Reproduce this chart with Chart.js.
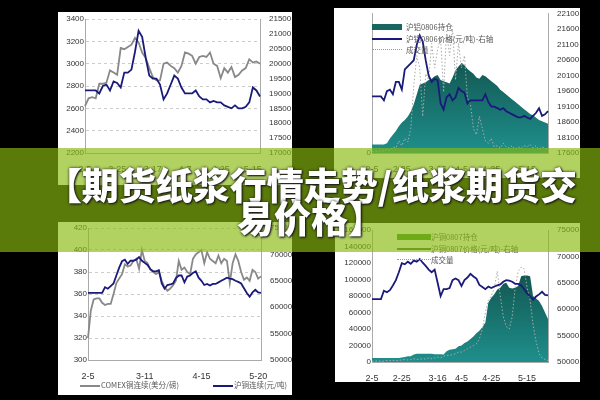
<!DOCTYPE html>
<html><head><meta charset="utf-8">
<script src="https://cdn.jsdelivr.net/npm/chart.js@4"></script>
<style>
body{margin:0;width:600px;height:400px;background:#000;position:relative;overflow:hidden;font-family:"Liberation Sans",Arial,sans-serif}
.panel{position:absolute;background:#fff}
.panel canvas{position:absolute;left:0;top:0}
.lg{position:absolute;font:7.5px "Noto Sans CJK SC",sans-serif;color:#555;white-space:nowrap;line-height:10px}
.sw{position:absolute}
#banner{position:absolute;left:0;top:148px;width:600px;height:104px;background:rgba(136,185,15,0.66);z-index:5;text-align:center;color:#fff;
 font:900 37px/33px "Noto Sans CJK SC",sans-serif;padding:20px 0 0 22px;box-sizing:border-box;text-shadow:0 0 3px #222,1px 1px 2px #111}
</style></head><body>
<div class="panel" style="left:58px;top:12px;width:234px;height:173px"><canvas id="tl"></canvas></div>
<div class="panel" style="left:334px;top:8px;width:246px;height:170px"><canvas id="tr"></canvas>
 <div class="sw" style="left:38px;top:16px;width:30px;height:6px;background:#17665f"></div><div class="lg" style="left:72px;top:14px">沪铝0806持仓</div>
 <div class="sw" style="left:38px;top:30px;width:30px;height:2px;background:#1a1a7a"></div><div class="lg" style="left:72px;top:26px">沪铝0806价格(元/吨)-右轴</div>
 <div class="sw" style="left:38px;top:41px;width:30px;border-top:1px dotted #999"></div><div class="lg" style="left:72px;top:37px">成交量</div>
</div>
<div class="panel" style="left:58px;top:222px;width:234px;height:173px"><canvas id="bl"></canvas>
 <div class="sw" style="left:22px;top:163px;width:20px;height:2px;background:#888"></div><div class="lg" style="left:43px;top:158px">COMEX铜连续(美分/磅)</div>
 <div class="sw" style="left:155px;top:163px;width:20px;height:2px;background:#1a1a7a"></div><div class="lg" style="left:176px;top:158px">沪铜连续(元/吨)</div>
</div>
<div class="panel" style="left:335px;top:223px;width:245px;height:159px"><canvas id="br"></canvas>
 <div class="sw" style="left:62px;top:11px;width:34px;height:6px;background:#3f8f2c"></div><div class="lg" style="left:96px;top:9px">沪铜0807持仓</div>
 <div class="sw" style="left:62px;top:25px;width:34px;height:2px;background:#3f6f2c"></div><div class="lg" style="left:96px;top:21px">沪铜0807价格(元/吨)-右轴</div>
 <div class="sw" style="left:62px;top:36px;width:34px;border-top:1px dotted #999"></div><div class="lg" style="left:96px;top:32px">成交量</div>
</div>
<div id="banner">【期货纸浆行情走势/纸浆期货交<br>易价格】</div>
<script>
// top-left: pulp index vs futures (50 pts)
const tlGray = [2620,2690,2700,2690,2820,2820,2830,2940,2920,2900,3140,3130,3150,3170,3230,3190,3100,3050,2960,2880,
  2850,2850,3000,3010,2980,2960,2920,2980,3100,3090,3070,3000,3060,3070,3060,3100,3000,2980,2870,2960,
  2920,2970,2880,2900,2940,2960,3040,3010,3020,3000];
const tlNavy = [19100,19100,19100,19100,19000,19250,19300,19100,19400,19350,19200,19700,19700,19800,20400,21100,20900,20200,19600,19500,
  19500,19300,18800,19000,19300,19600,19500,19200,19000,19000,19000,19100,18900,18800,18800,18700,18750,18700,18700,18600,
  18550,18500,18600,18500,18500,18550,18700,19200,19100,18900];
const tlTickPos = [0, 9, 19, 28, 38, 47];
const tlTickText = ['2-5', '2-25', '3-17', '4-7', '4-25', '5-15'];

// top-right: 沪铝0806 (60 pts)
const trOI = [7000,7000,7000,7000,7000,8000,12000,15000,18000,22000,25000,27000,30000,34000,40000,48000,56000,57000,58000,60000,
  61000,63000,64000,60000,59000,58000,57000,62000,68000,71000,74000,72000,69000,67000,65000,62000,61000,64000,63000,61000,
  59000,57000,55000,52000,50000,48000,46000,44000,42000,40000,38000,36000,34000,32000,31000,29000,27000,26000,25000,24000];
const trPrice = [19430,19430,19430,19430,19300,19600,19650,19500,19900,19900,19650,20300,20400,20500,20600,21100,21400,21200,20600,20100,
  19900,20000,19950,19200,19000,19400,19500,19300,19400,19700,19600,19550,19200,19300,19300,19300,19300,19300,19500,19250,
  19100,19100,19050,19000,19050,18950,18900,18850,18800,18750,18750,18800,18750,18700,18800,18900,19050,18800,18850,18950];
const trVol = [1000,1500,1000,2000,1500,3000,2000,5000,4000,10000,6000,12000,9000,20000,55000,80000,70000,30000,65000,60000,
  90000,70000,85000,95000,50000,100000,80000,102000,60000,90000,70000,80000,45000,40000,20000,15000,30000,20000,10000,8000,
  12000,5000,6000,4000,8000,5000,4000,6000,3000,5000,4000,6000,5000,7000,4000,6000,3000,5000,4000,3000];
const rTickPos = [0, 10, 22, 30, 40, 52];
const rTickText = ['2-5', '2-25', '3-16', '4-5', '4-25', '5-15'];

// bottom-left: COMEX copper vs SHFE copper (62 pts)
const blGray = [320,345,355,356,356,352,350,351,351,360,370,374,378,387,385,386,390,392,383,400,
  390,388,382,380,378,380,372,366,363,365,368,372,390,382,384,380,378,392,396,398,
  400,388,398,392,390,388,395,388,392,390,370,388,396,390,380,373,375,372,382,380,374,376];
const blNavy = [62700,62700,62700,62700,62700,62700,63800,63500,64000,64500,66000,67500,68700,69000,68200,68800,68800,69000,69500,68800,
  68400,68000,67200,66800,66800,67000,64500,63500,64200,64300,64500,65500,66000,66000,64700,65800,66000,66500,66800,65600,
  65000,64200,64400,64100,64400,64400,64700,65000,65300,65600,65400,65300,65000,64800,64500,63600,62700,62000,62800,63300,62800,62700];
const blTickPos = [0, 20, 40, 60];
const blTickText = ['2-5', '3-11', '4-15', '5-20'];

// bottom-right: 沪铜0807 (60 pts)
const brOI = [5000,5000,5000,5000,5000,5000,5000,5000,5000,5000,5500,6000,7000,7000,9000,10000,10000,10000,10000,10000,
  10000,9500,9500,9500,9000,13000,15000,15500,16000,19000,20000,23000,25000,28000,31000,35000,38000,42000,48000,72000,
  78000,82000,88000,90000,95000,96000,90000,89000,90000,92000,104000,105000,105000,104000,80000,77000,74000,68000,60000,52000];
const brPrice = [61900,61900,61900,61900,63500,63200,63600,64500,65500,67000,68700,68500,69000,68600,69200,69000,69500,68800,68200,67500,
  67000,67500,65000,62500,63800,63800,64000,65500,65800,65500,64400,65500,66000,66700,66200,65800,64600,64200,63800,64300,
  64000,64300,64500,64700,65200,65500,65400,65200,64800,64800,64500,63800,63000,62500,61800,62400,62800,63300,62700,62600];
const brVol = [1000,1000,1500,1000,1000,2000,1500,2000,1500,2000,2500,3000,2500,3000,4000,3000,3500,4000,3500,5000,
  4000,5000,6000,5000,7000,8000,8000,9000,10000,12000,12000,14000,16000,18000,20000,22000,28000,40000,60000,75000,
  80000,90000,110000,80000,55000,43000,40000,55000,90000,110000,115000,113000,90000,75000,45000,25000,10000,5000,3000,2000];

const NAVY = '#1a1a7a';
const TICK = { color: '#333', padding: 1, font: { size: 8, family: 'Liberation Sans' }, callback: (v) => String(v) };

function makeLabels(n, pos, text) {
  return Array.from({ length: n }, (_, i) => { const k = pos.indexOf(i); return k >= 0 ? text[k] : ''; });
}
const fixW = (w) => (s) => { s.width = w; };
const fixH = (h) => (s) => { s.height = h; };

function tealFill(c) {
  const a = c.chart.chartArea;
  if (!a) return '#17665f';
  const g = c.chart.ctx.createLinearGradient(0, a.top, 0, a.bottom);
  g.addColorStop(0, '#0b3a33'); g.addColorStop(1, '#1f8f8c');
  return g;
}

function dualLine(id, w, h, pad, labels, sets, yL, yR, grid) {
  const el = document.getElementById(id);
  el.width = w; el.height = h;
  return new Chart(el, {
    type: 'line',
    data: { labels, datasets: sets },
    options: {
      responsive: false, animation: false, layout: { padding: { top: pad.top, left: 0, right: 0, bottom: 0 } },
      plugins: { legend: { display: false }, tooltip: { enabled: false } },
      elements: { point: { radius: 0 }, line: { tension: 0 } },
      scales: {
        x: { ticks: { color: '#333', font: { size: 9, family: 'Liberation Sans' }, autoSkip: false, maxRotation: 0 },
             grid: { display: false }, border: { color: '#aaa' }, afterFit: fixH(pad.bottom) },
        y: { position: 'left', ...yL, ticks: { ...TICK, ...(yL.ticks || {}) },
             grid: { display: grid, color: '#ccc', drawTicks: false }, border: { color: '#aaa', dash: grid ? [3, 3] : [] },
             afterFit: fixW(pad.left) },
        y1: { position: 'right', ...yR, ticks: { ...TICK, ...(yR.ticks || {}) }, grid: { display: false }, border: { color: '#aaa' },
              afterFit: fixW(pad.right) },
      },
    },
  });
}

dualLine('tl', 234, 173, { top: 7, left: 27, right: 32, bottom: 32 },
  makeLabels(tlGray.length, tlTickPos, tlTickText),
  [
    { data: tlNavy, yAxisID: 'y1', borderColor: NAVY, borderWidth: 1.8 },
    { data: tlGray, yAxisID: 'y', borderColor: '#888', borderWidth: 1.8 },
  ],
  { min: 2200, max: 3400, ticks: { stepSize: 200 } },
  { min: 17000, max: 21500, ticks: { stepSize: 500 } }, true);

dualLine('bl', 234, 173, { top: 6, left: 30, right: 31, bottom: 35 },
  makeLabels(blGray.length, blTickPos, blTickText),
  [
    { data: blNavy, yAxisID: 'y1', borderColor: NAVY, borderWidth: 1.8 },
    { data: blGray, yAxisID: 'y', borderColor: '#888', borderWidth: 1.8 },
  ],
  { min: 300, max: 420, ticks: { stepSize: 20 } },
  { min: 50000, max: 75000, ticks: { stepSize: 5000 } }, true);

dualLine('tr', 246, 170, { top: 1, left: 38, right: 32, bottom: 25 },
  makeLabels(trOI.length, rTickPos, rTickText),
  [
    { data: trPrice, yAxisID: 'y1', borderColor: NAVY, borderWidth: 1.8, order: 0 },
    { data: trVol, yAxisID: 'y', borderColor: '#aaa', borderWidth: 1, borderDash: [1.5, 2], order: 1 },
    { data: trOI, yAxisID: 'y', borderWidth: 0, fill: 'origin', backgroundColor: tealFill, order: 2 },
  ],
  { min: 0, max: 114300, ticks: { stepSize: 20000, callback: (v) => v % 20000 === 0 ? String(v) : '' } },
  { min: 17600, max: 22100, ticks: { stepSize: 500 } }, false);

dualLine('br', 245, 159, { top: 7, left: 37, right: 32, bottom: 20 },
  makeLabels(brOI.length, rTickPos, rTickText),
  [
    { data: brPrice, yAxisID: 'y1', borderColor: NAVY, borderWidth: 1.8, order: 0 },
    { data: brVol, yAxisID: 'y', borderColor: '#aaa', borderWidth: 1, borderDash: [1.5, 2], order: 1 },
    { data: brOI, yAxisID: 'y', borderWidth: 0, fill: 'origin', backgroundColor: tealFill, order: 2 },
  ],
  { min: 0, max: 160000, ticks: { stepSize: 20000 } },
  { min: 50000, max: 75000, ticks: { stepSize: 5000 } }, false);
</script>
</body></html>
